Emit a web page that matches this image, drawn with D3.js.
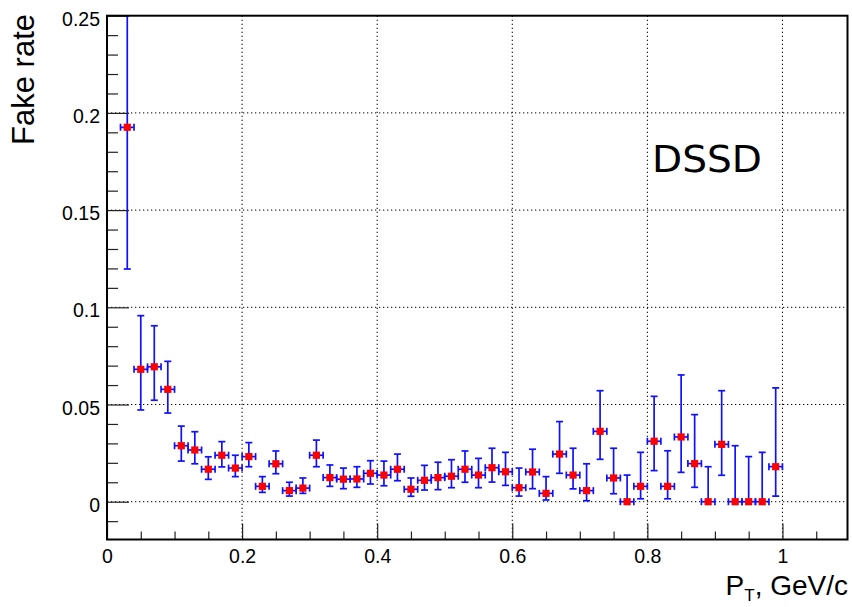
<!DOCTYPE html>
<html><head><meta charset="utf-8">
<script src="https://cdn.jsdelivr.net/npm/d3@7"></script>
<style>body{margin:0;background:#fff}svg{display:block}</style>
</head><body>
<script>
// ---- data ----
const ptCenters = [0.03,0.05,0.07,0.09,0.11,0.13,0.15,0.17,0.19,0.21,0.23,0.25,0.27,0.29,0.31,0.33,0.35,0.37,0.39,0.41,0.43,0.45,0.47,0.49,0.51,0.53,0.55,0.57,0.59,0.61,0.63,0.65,0.67,0.69,0.71,0.73,0.75,0.77,0.79,0.81,0.83,0.85,0.87,0.89,0.91,0.93,0.95,0.97,0.99];
const fakeRate = [0.1926,0.0681,0.0694,0.0578,0.0288,0.0266,0.0167,0.0239,0.0173,0.0232,0.0079,0.0195,0.0057,0.0070,0.0239,0.0124,0.0116,0.0117,0.0146,0.0137,0.0167,0.0064,0.0110,0.0124,0.0131,0.0167,0.0137,0.0175,0.0154,0.0072,0.0153,0.0043,0.0245,0.0137,0.0057,0.0362,0.0122,0.0,0.0079,0.0311,0.0079,0.0333,0.0196,0.0,0.0295,0.0,0.0,0.0,0.0180];
const errLowEdge = [0.1197,0.0472,0.0522,0.0456,0.0209,0.0195,0.0115,0.0179,0.0129,0.0180,0.0048,0.0144,0.0029,0.0043,0.0180,0.0079,0.0067,0.0074,0.0091,0.0082,0.0108,0.0028,0.0060,0.0062,0.0072,0.0100,0.0072,0.0101,0.0084,0.0029,0.0067,0.0009,0.0146,0.0066,0.0005,0.0218,0.0041,0.0,0.0015,0.0160,0.0015,0.0151,0.0074,0.0,0.0136,0.0,0.0,0.0,0.0029];
const errHighEdge = [0.2700,0.0957,0.0905,0.0722,0.0389,0.0360,0.0231,0.0309,0.0239,0.0304,0.0129,0.0261,0.0100,0.0122,0.0317,0.0189,0.0173,0.0180,0.0211,0.0209,0.0245,0.0122,0.0187,0.0203,0.0216,0.0261,0.0223,0.0275,0.0254,0.0173,0.0270,0.0129,0.0412,0.0275,0.0195,0.0571,0.0275,0.0137,0.0254,0.0542,0.0262,0.0652,0.0448,0.0180,0.0571,0.0288,0.0232,0.0254,0.0586];
const binHalfWidth = 0.01;
const xTickValues = [0,0.2,0.4,0.6,0.8,1];
const xTickLabels = ["0","0.2","0.4","0.6","0.8","1"];
const yTickValues = [0,0.05,0.1,0.15,0.2,0.25];
const yTickLabels = ["0","0.05","0.1","0.15","0.2","0.25"];
const xMinorTicks = [0.05,0.1,0.15,0.25,0.3,0.35,0.45,0.5,0.55,0.65,0.7,0.75,0.85,0.9,0.95,1.05];
const yMinorTicks = [-0.01,0.01,0.02,0.03,0.04,0.06,0.07,0.08,0.09,0.11,0.12,0.13,0.14,0.16,0.17,0.18,0.19,0.21,0.22,0.23,0.24];
const xTitle = "P", xTitleSub = "T", xTitleRest = ", GeV/c";
const yTitle = "Fake rate";
const label = "DSSD";

// ---- layout ----
const W = 852, H = 607;
const L = 107, R = 847.5, T = 15.7, B = 539.5;
const FONT = "'Liberation Sans', Arial, Helvetica, sans-serif";

const svg = d3.select("body").append("svg").attr("width", W).attr("height", H);

const x = d3.scaleLinear().domain([0, 1.0963]).range([L, R]);
const y = d3.scaleLinear().domain([-0.01944, 0.25]).range([B, T]);

svg.append("defs").append("clipPath").attr("id","plotclip")
  .append("rect").attr("x", L).attr("y", T).attr("width", R - L).attr("height", B - T);

// grid
const grid = svg.append("g").attr("stroke", "#000").attr("stroke-width", 1).attr("stroke-dasharray", "1.3,2.7");
grid.selectAll(".gx").data(xTickValues.filter(v => v > 0)).join("line")
  .attr("x1", d => x(d)).attr("x2", d => x(d)).attr("y1", T).attr("y2", B);
grid.selectAll(".gy").data(yTickValues.filter(v => v < 0.25)).join("line")
  .attr("x1", L).attr("x2", R).attr("y1", d => y(d)).attr("y2", d => y(d));

// data
const pts = ptCenters.map((c, i) => ({c, v: fakeRate[i], lo: errLowEdge[i], hi: errHighEdge[i]}));
const eb = svg.append("g").attr("clip-path", "url(#plotclip)").attr("stroke", "#1010ff").attr("stroke-width", 1.7).attr("fill", "none");
const cap = 3.5;
const g = eb.selectAll("g").data(pts).join("g");
g.append("line").attr("x1", d => x(d.c)).attr("x2", d => x(d.c)).attr("y1", d => y(d.lo)).attr("y2", d => y(d.hi));
g.filter(d => d.hi > d.v).append("line").attr("x1", d => x(d.c) - cap).attr("x2", d => x(d.c) + cap).attr("y1", d => y(d.hi)).attr("y2", d => y(d.hi));
g.filter(d => d.lo < d.v).append("line").attr("x1", d => x(d.c) - cap).attr("x2", d => x(d.c) + cap).attr("y1", d => y(d.lo)).attr("y2", d => y(d.lo));
g.append("line").attr("x1", d => x(d.c - binHalfWidth)).attr("x2", d => x(d.c + binHalfWidth)).attr("y1", d => y(d.v)).attr("y2", d => y(d.v));
g.append("line").attr("x1", d => x(d.c - binHalfWidth)).attr("x2", d => x(d.c - binHalfWidth)).attr("y1", d => y(d.v) - cap).attr("y2", d => y(d.v) + cap);
g.append("line").attr("x1", d => x(d.c + binHalfWidth)).attr("x2", d => x(d.c + binHalfWidth)).attr("y1", d => y(d.v) - cap).attr("y2", d => y(d.v) + cap);

const ms = 7.2;
svg.append("g").attr("fill", "#ff0000").selectAll("rect").data(pts).join("rect")
  .attr("x", d => x(d.c) - ms/2).attr("y", d => y(d.v) - ms/2).attr("width", ms).attr("height", ms);

// axes
function styleAxis(sel){
  sel.select(".domain").remove();
  sel.selectAll(".tick line").attr("stroke", "#222").attr("stroke-width", 1.2);
}
const yMinor = svg.append("g").attr("transform", `translate(${L},0)`)
  .call(d3.axisLeft(y).tickValues(yMinorTicks).tickSize(-11).tickFormat(""));
styleAxis(yMinor);
const yMajor = svg.append("g").attr("transform", `translate(${L},0)`)
  .call(d3.axisLeft(y).tickValues(yTickValues).tickSize(-22).tickPadding(7)
        .tickFormat((d, i) => yTickLabels[i]));
styleAxis(yMajor);
yMajor.selectAll(".tick text").attr("x", -7).attr("dy", null).attr("y", 9.5)
  .attr("font-family", FONT).attr("font-size", 19.5).attr("fill", "#000");

const xMinor = svg.append("g").attr("transform", `translate(0,${B})`)
  .call(d3.axisBottom(x).tickValues(xMinorTicks).tickSize(-8).tickFormat(""));
styleAxis(xMinor);
const xMajor = svg.append("g").attr("transform", `translate(0,${B})`)
  .call(d3.axisBottom(x).tickValues(xTickValues).tickSize(-16).tickPadding(9)
        .tickFormat((d, i) => xTickLabels[i]));
styleAxis(xMajor);
xMajor.selectAll(".tick text").attr("dy", null).attr("y", 23.5)
  .attr("font-family", FONT).attr("font-size", 19.5).attr("fill", "#000");

// frame
svg.append("rect").attr("x", L).attr("y", T).attr("width", R - L).attr("height", B - T)
  .attr("fill", "none").attr("stroke", "#000").attr("stroke-width", 2);

// titles
svg.append("text").attr("transform", "translate(34,14) rotate(-90)")
  .attr("text-anchor", "end").attr("font-family", FONT).attr("font-size", 31).attr("fill", "#000")
  .text(yTitle);

const xt = svg.append("text").attr("transform", "translate(848,595)")
  .attr("text-anchor", "end").attr("font-family", FONT).attr("font-size", 28).attr("fill", "#000");
xt.append("tspan").text(xTitle);
xt.append("tspan").attr("font-size", 17).attr("dy", 6).text(xTitleSub);
xt.append("tspan").attr("dy", -6).text(xTitleRest);

svg.append("text").attr("transform", "translate(652,172) scale(1.03,1)")
  .attr("font-family", "'DejaVu Sans', sans-serif").attr("font-size", 38).attr("fill", "#000")
  .text(label);
</script>
</body></html>
